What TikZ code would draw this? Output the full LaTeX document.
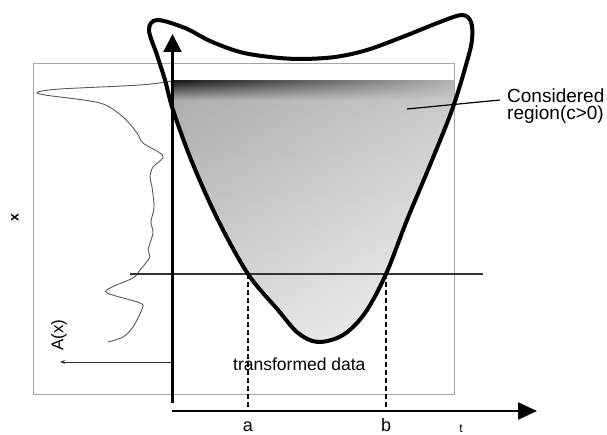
\documentclass[tikz,border=0pt]{standalone}
\usepackage{fontspec}
\setmainfont{Liberation Sans}
\usetikzlibrary{arrows.meta,fadings}
\tikzset{
  blobline/.style={line width=4pt, line join=round},
  axisline/.style={line width=2.4pt},
  thinrule/.style={line width=1.4pt, black!80},
  dashrule/.style={line width=1.3pt, dash pattern=on 5pt off 3pt},
  profile/.style={line width=0.9pt, black!65},
  lbl/.style={inner sep=0pt},
}
\begin{document}
\begin{tikzpicture}[x=1pt,y=-1pt]
\useasboundingbox (0,0) rectangle (607,435);
\def\blob{plot[smooth cycle, tension=0.55] coordinates {
 (149,30) (157,20) (185,28) (210,41) (240,52) (270,57) (300,59) (335,57) (367,50)
 (405,36) (440,22) (462,15) (471,22) (472,40) (466,65) (452,110) (430,165)
 (407,220) (386,274) (365,313) (343,335) (318,342) (298,333) (278,310)
 (248,274) (218,220) (192,162) (173,110) (165,80) (157,55)}}
% gray frame
\draw[black!35, line width=0.9pt] (33,63) rectangle (454,394);
% shaded data
\begin{scope}
  \clip \blob;
  \clip (172,81) rectangle (454,394);
  \fill[black!9] (172,81) rectangle (454,394);
  \shade[top color=black!45, bottom color=black!0, fill opacity=0.55] (172,81) rectangle (454,350);
  \shade[left color=black!45, right color=white, fill opacity=0.25] (172,81) rectangle (454,350);
  \shade[left color=black!90, right color=black!30, path fading=south] (172,81) rectangle (454,100);
\end{scope}
% profile A(x)
\draw[profile] plot[smooth, tension=0.5] coordinates {
 (173,81) (140,85) (60,89) (38,92) (45,95) (100,103) (123,117) (137,133)
 (143,143) (160,153) (163,158) (153,167) (150,177) (152,187) (154,207)
 (151,222) (153,233) (148,250) (150,257) (140,270) (133,278) (112,287)
 (107,293) (140,303) (142,309) (133,327) (123,337) (108,342)};
% coordinates
\coordinate (vbot) at (172.5,403);
\coordinate (vtop) at (172.5,34);
\coordinate (hleft) at (172,411);
\coordinate (hright) at (537,411);
\coordinate (cl) at (130,274);
\coordinate (cr) at (483,274);
\coordinate (pa) at (248,274);
\coordinate (pb) at (386,274);
\coordinate (qa) at (248,411);
\coordinate (qb) at (386,411);
\coordinate (astart) at (172,362);
\coordinate (aend) at (60,362);
\coordinate (lead) at (407,109);
\coordinate (leadend) at (500,100);
% lines
\draw[thinrule] (cl) -- (cr);
\draw[dashrule] (pa) -- (qa);
\draw[dashrule] (pb) -- (qb);
\draw[line width=0.9pt, black!80, -{Stealth[length=5pt,width=4pt]}] (astart) -- (aend);
\draw[line width=1.2pt] (lead) -- (leadend);
% blob outline
\draw[blobline] \blob;
% axes
\draw[axisline, -{Triangle[length=18pt,width=18pt]}] (vbot) -- (vtop);
\draw[axisline, -{Triangle[length=19pt,width=17pt]}] (hleft) -- (hright);
% labels
\node[lbl, anchor=north west, align=left, font=\fontsize{19}{17}\selectfont] (considered) at (507,89) {Considered\\region(c>0)};
\node[lbl, anchor=base west, font=\fontsize{17.5}{19}\selectfont] (tdata) at (233,370) {transformed data};
\node[lbl, anchor=base, font=\fontsize{18}{19}\selectfont] (la) at (248,431) {a};
\node[lbl, anchor=base, font=\fontsize{18}{19}\selectfont] (lb) at (386,431) {b};
\node[lbl, anchor=base, font=\fontsize{12}{13}\selectfont] (lt) at (461,432) {t};
\node[lbl, rotate=90, font=\fontsize{17}{18}\selectfont] (lAx) at (59,335) {A(x)};
\node[lbl, rotate=90, font=\fontsize{14}{15}\selectfont\bfseries] (lx) at (15,218) {x};
\end{tikzpicture}
\end{document}
